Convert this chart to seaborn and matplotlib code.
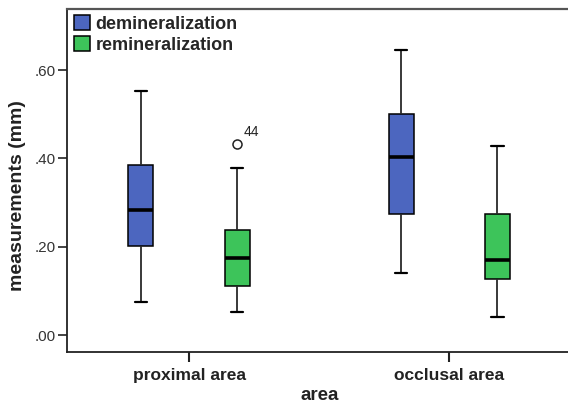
import numpy as np
import pandas as pd
import seaborn as sns
import matplotlib.pyplot as plt

areas = ['proximal area', 'occlusal area']
groups = ['demineralization', 'remineralization']
colors = ['#4c66bf', '#3dc45a']

# box plot summaries (mm): whisker ends, quartiles, medians
demin_low = [0.076, 0.142]
demin_q1 = [0.203, 0.274]
demin_med = [0.284, 0.403]
demin_q3 = [0.385, 0.500]
demin_high = [0.553, 0.646]

remin_low = [0.053, 0.041]
remin_q1 = [0.112, 0.128]
remin_med = [0.176, 0.170]
remin_q3 = [0.238, 0.275]
remin_high = [0.379, 0.428]

# outlier, case 44
outlier_area = 'proximal area'
outlier_group = 'remineralization'
outlier_value = 0.432
outlier_label = '44'

yticks = [0.0, 0.2, 0.4, 0.6]
ytick_labels = ['.00', '.20', '.40', '.60']

# build a small table whose quartiles hit the summaries exactly
summ = {'demineralization': (demin_low, demin_q1, demin_med, demin_q3, demin_high),
        'remineralization': (remin_low, remin_q1, remin_med, remin_q3, remin_high)}
rows = []
for g in groups:
    lo, q1, md, q3, hi = summ[g]
    for i, a in enumerate(areas):
        vals = [lo[i], q1[i], q1[i], md[i], md[i], q3[i], q3[i], hi[i]]
        if a == outlier_area and g == outlier_group:
            vals.append(outlier_value)
        for v in vals:
            rows.append({'area': a, 'group': g, 'value': v})
df = pd.DataFrame(rows)

sns.set_style('white')
plt.rcParams['font.family'] = ['Liberation Sans', 'DejaVu Sans']

fig = plt.figure(figsize=(5.68, 4.05), dpi=100)
ax = fig.add_axes([0.1185, 0.130, 0.887, 0.8477])

sns.boxplot(data=df, x='area', y='value', hue='group', order=areas, hue_order=groups,
            palette=colors, saturation=1, width=0.74, gap=0.74,
            linecolor='black', linewidth=1.1,
            medianprops=dict(linewidth=2.6, color='black'),
            whiskerprops=dict(linewidth=1.3, color='#2a2a2a'),
            capprops=dict(linewidth=1.6),
            flierprops=dict(marker='o', markersize=6.5, markerfacecolor='white',
                            markeredgecolor='#222222', markeredgewidth=1.1),
            ax=ax)

# label the outlier
for ln in ax.lines:
    xd, yd = ln.get_xdata(), ln.get_ydata()
    if ln.get_marker() == 'o' and len(yd) > 0:
        ax.annotate(outlier_label, (xd[0], yd[0]), xytext=(4.5, 3.5),
                    textcoords='offset points', ha='left', va='bottom',
                    fontsize=10, color='#222222')

ax.set_xlim(-0.468, 1.469)
ax.set_ylim(-0.0385, 0.738)
ax.set_yticks(yticks)
ax.set_yticklabels(ytick_labels)

ax.tick_params(axis='y', left=True, length=6.5, width=1.2, pad=2, labelsize=11,
               labelcolor='#333333', color='#222222')
ax.tick_params(axis='x', bottom=True, length=7, width=1.5, pad=4, labelsize=12.5,
               color='#222222')
for t in ax.get_xticklabels():
    t.set_fontweight('bold')
    t.set_color('#222222')

ax.set_xlabel('area', fontsize=13.5, fontweight='bold', color='#222222', va='center')
ax.xaxis.set_label_coords(0.5, -0.126)
ax.set_ylabel('measurements (mm)', fontsize=14, fontweight='bold', color='#222222',
              va='center')
ax.yaxis.set_label_coords(-0.098, 0.457)

for s in ['left', 'bottom']:
    ax.spines[s].set_color('#222222')
    ax.spines[s].set_linewidth(1.3)
ax.spines['top'].set_color('#555555')
ax.spines['top'].set_linewidth(1.6)
ax.spines['right'].set_visible(False)

sns.move_legend(ax, 'upper left', bbox_to_anchor=(0, 1), title=None, frameon=False,
                prop=dict(weight='bold', size=13), handlelength=0.9, handleheight=0.9,
                handletextpad=0.3, borderpad=0.25, borderaxespad=0.1, labelspacing=0.15)

fig.savefig('out.png', dpi=100)
